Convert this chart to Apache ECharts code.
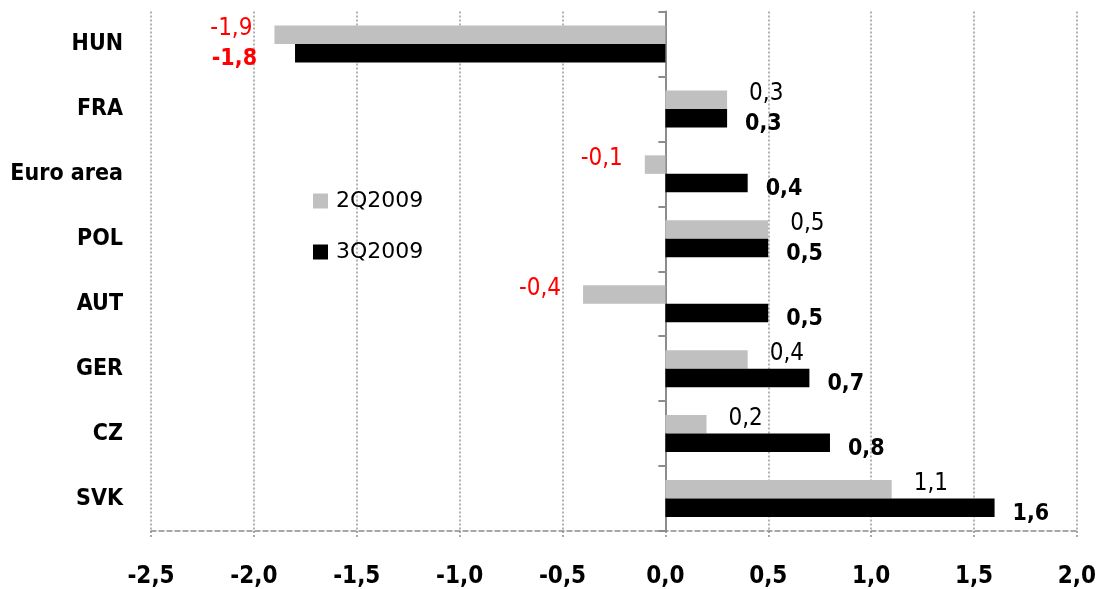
<!DOCTYPE html>
<html>
<head>
<meta charset="utf-8">
<script src="https://cdn.jsdelivr.net/npm/echarts@6/dist/echarts.min.js"></script>
<style>
html,body{margin:0;padding:0;background:#fff;}
#c{width:1099px;height:589px;}
</style>
</head>
<body>
<div id="c"></div>
<script>
const categories = ['HUN', 'FRA', 'Euro area', 'POL', 'AUT', 'GER', 'CZ', 'SVK'];
const q2_2009 = [-1.9, 0.3, -0.1, 0.5, -0.4, 0.4, 0.2, 1.1];
const q3_2009 = [-1.8, 0.3, 0.4, 0.5, 0.5, 0.7, 0.8, 1.6];
const seriesNames = ['2Q2009', '3Q2009'];
const xTicks = [-2.5, 2.0, 0.5]; // min, max, interval

const NARROW = "'Liberation Sans Narrow', 'Arial Narrow', 'DejaVu Sans Condensed', sans-serif";
const fmt = v => v.toFixed(1).replace('.', ',');

function makeData(values, bold) {
  return values.map(v => ({
    value: v,
    label: {
      position: v < 0 ? 'left' : 'right',
      distance: bold ? (v < 0 ? 38 : 18) : 22,
      offset: bold ? [0, 6] : [0, -6],
      color: v < 0 ? '#ff0000' : '#000'
    }
  }));
}

const chart = echarts.init(document.getElementById('c'));
chart.setOption({
  animation: false,
  backgroundColor: '#fff',
  grid: { left: 151, right: 18, top: 11.5, bottom: 57.5, containLabel: false },
  legend: {
    orient: 'vertical',
    left: 308,
    top: 185,
    itemWidth: 15,
    itemHeight: 15,
    itemGap: 29,
    icon: 'rect',
    data: seriesNames,
    textStyle: { fontFamily: "'DejaVu Sans', sans-serif", fontSize: 22, color: '#000', padding: [0, 0, 0, 3] }
  },
  xAxis: {
    type: 'value',
    min: xTicks[0],
    max: xTicks[1],
    interval: xTicks[2],
    axisLine: { show: true, onZero: false, lineStyle: { color: '#8c8c8c', width: 1.5, type: [5, 3] } },
    axisTick: { show: true, length: 6, lineStyle: { color: '#8c8c8c', width: 1.5, type: [2, 2] } },
    splitLine: { show: true, lineStyle: { color: '#999', width: 1.5, type: [2, 2] } },
    axisLabel: {
      margin: 34,
      formatter: v => fmt(v),
      fontFamily: NARROW,
      fontWeight: 'bold',
      fontSize: 24,
      color: '#000'
    }
  },
  yAxis: [
    {
      type: 'category',
      data: categories,
      inverse: true,
      axisLine: { show: false, onZero: false },
      axisTick: { show: false },
      splitLine: { show: false },
      axisLabel: { margin: 28, fontFamily: NARROW, fontWeight: 'bold', fontSize: 23, color: '#000' }
    },
    {
      type: 'category',
      data: categories,
      inverse: true,
      position: 'left',
      axisLine: { show: true, onZero: true, lineStyle: { color: '#8c8c8c', width: 2 } },
      axisTick: { show: true, length: 7, lineStyle: { color: '#8c8c8c', width: 2 } },
      axisLabel: { show: false },
      splitLine: { show: false }
    }
  ],
  series: [
    {
      name: seriesNames[0],
      type: 'bar',
      yAxisIndex: 0,
      data: makeData(q2_2009, false),
      itemStyle: { color: '#c0c0c0' },
      barWidth: 18.5,
      barGap: '0%',
      label: {
        show: true,
        formatter: p => fmt(p.value),
        fontFamily: NARROW,
        fontSize: 24
      }
    },
    {
      name: seriesNames[1],
      type: 'bar',
      yAxisIndex: 0,
      data: makeData(q3_2009, true),
      itemStyle: { color: '#000' },
      barWidth: 18.5,
      barGap: '0%',
      label: {
        show: true,
        formatter: p => fmt(p.value),
        fontFamily: NARROW,
        fontWeight: 'bold',
        fontSize: 23
      }
    }
  ]
});
</script>
</body>
</html>
